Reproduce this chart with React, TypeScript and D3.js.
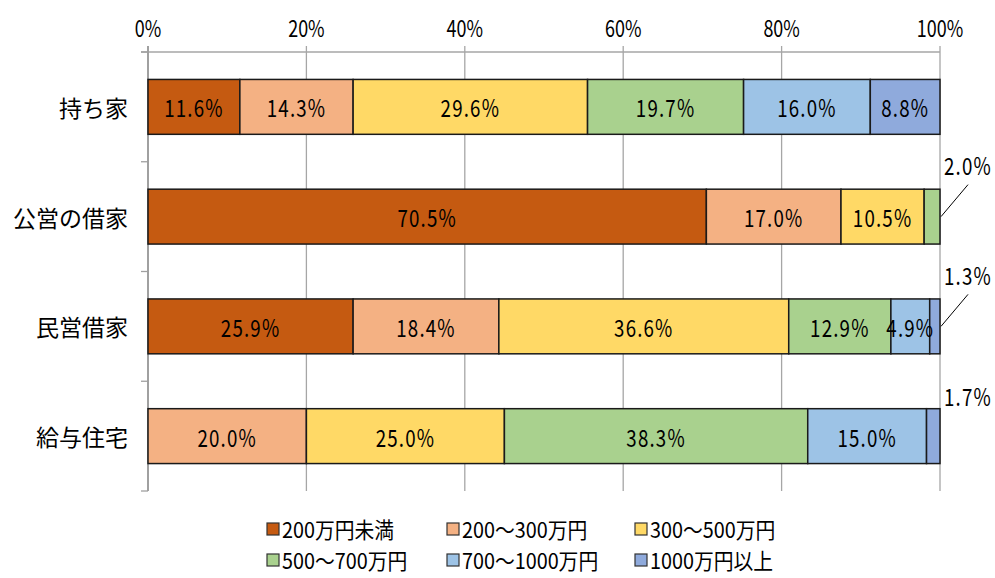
import React from 'react'
import * as d3 from 'd3'

const categories = ['持ち家', '公営の借家', '民営借家', '給与住宅']
const seriesNames = ['200万円未満', '200～300万円', '300～500万円', '500～700万円', '700～1000万円', '1000万円以上']
const seriesColors = ['#C55A11', '#F4B183', '#FFD966', '#A9D18E', '#9DC3E6', '#8FAADC']
// values per category, in series order (%)
const mochiie = [11.6, 14.3, 29.6, 19.7, 16.0, 8.8]
const koei = [70.5, 17.0, 10.5, 2.0, 0, 0]
const minei = [25.9, 18.4, 36.6, 12.9, 4.9, 1.3]
const kyuyo = [0, 20.0, 25.0, 38.3, 15.0, 1.7]
const values = [mochiie, koei, minei, kyuyo]
const xTicks = [0, 20, 40, 60, 80, 100]

// small segments labelled outside the bar: [category index, series index, leader line?]
const outside: [number, number, boolean][] = [
  [1, 3, true],
  [2, 5, true],
  [3, 5, false],
]

const font = "'Noto Sans CJK JP', 'Noto Sans CJK SC', sans-serif"

const T = ({ x, y, size, sx = 0.8, anchor = 'middle', ls = 0, children }: any) => (
  <text
    transform={`translate(${x},${y}) scale(${sx},1)`}
    textAnchor={anchor}
    dominantBaseline="central"
    fontSize={size}
    fontFamily={font}
    letterSpacing={ls}
    fill="#000"
  >
    {children}
  </text>
)

const App = () => {
  const width = 995
  const height = 578
  const x = d3.scaleLinear().domain([0, 100]).range([148, 940])
  const y = d3.scaleBand().domain(categories).range([52, 491]).paddingInner(0.5).paddingOuter(0.25)
  const step = y.step()
  const top = 52
  const bottom = 491
  const fmt = (v: number) => v.toFixed(1) + '%'
  const isOutside = (ci: number, si: number) => outside.some((o) => o[0] === ci && o[1] === si)

  const legendCols = [267, 447, 635]
  const legendRows = [529, 560]

  return (
    <svg width={width} height={height} style={{ position: 'absolute', left: 0, top: 0 }}>
      <rect width={width} height={height} fill="#fff" />
      {/* gridlines */}
      {xTicks.slice(1).map((t) => (
        <line key={t} x1={x(t)} x2={x(t)} y1={top - 6} y2={bottom} stroke="#a6a6a6" strokeWidth={1.3} />
      ))}
      {/* top axis */}
      <line x1={141} x2={x(100)} y1={top} y2={top} stroke="#a6a6a6" strokeWidth={1.5} />
      {xTicks.map((t) => (
        <T key={t} x={x(t)} y={27} size={23} sx={0.78}>
          {t}%
        </T>
      ))}
      {/* left axis */}
      <line x1={x(0)} x2={x(0)} y1={top - 6} y2={bottom} stroke="#a0a0a0" strokeWidth={2} />
      {d3.range(categories.length + 1).map((i) => (
        <line key={i} x1={141} x2={x(0)} y1={top + i * step} y2={top + i * step} stroke="#a0a0a0" strokeWidth={1.3} />
      ))}
      {categories.map((c) => (
        <T key={c} x={128} y={(y(c) ?? 0) + y.bandwidth() / 2} size={23} sx={1} anchor="end">
          {c}
        </T>
      ))}
      {/* bars */}
      {categories.map((c, ci) => {
        const cum = d3.cumsum(values[ci])
        const y0 = y(c) ?? 0
        const cy = y0 + y.bandwidth() / 2
        return (
          <g key={c}>
            {values[ci].map((v, si) => {
              if (v <= 0) return null
              const a = cum[si] - v
              return (
                <rect
                  key={si}
                  x={x(a)}
                  y={y0}
                  width={x(cum[si]) - x(a)}
                  height={y.bandwidth()}
                  fill={seriesColors[si]}
                  stroke="#1a1a1a"
                  strokeWidth={1.5}
                />
              )
            })}
            {values[ci].map((v, si) => {
              if (v <= 0 || isOutside(ci, si)) return null
              const a = cum[si] - v
              return (
                <T key={'l' + si} x={(x(a) + x(cum[si])) / 2} y={cy} size={24} sx={0.78} ls={1.5}>
                  {fmt(v)}
                </T>
              )
            })}
          </g>
        )
      })}
      {/* outside labels */}
      {outside.map(([ci, si, leader]) => {
        const c = categories[ci]
        const cy = (y(c) ?? 0) + y.bandwidth() / 2
        const lx = x(100) + 28
        return (
          <g key={c}>
            {leader && <line x1={x(100) + 1} y1={cy} x2={x(100) + 28} y2={cy - 32} stroke="#000" strokeWidth={1} />}
            <T x={lx} y={cy - (leader ? 52 : 41)} size={24} sx={0.78} ls={1.5}>
              {fmt(values[ci][si])}
            </T>
          </g>
        )
      })}
      {/* legend */}
      {seriesNames.map((s, i) => {
        const lx = legendCols[i % 3]
        const ly = legendRows[Math.floor(i / 3)]
        return (
          <g key={s}>
            <rect x={lx} y={ly - 6} width={12} height={12} fill={seriesColors[i]} stroke="#333" strokeWidth={1.2} />
            <T x={lx + 15} y={ly} size={22} sx={0.9} anchor="start">
              {s}
            </T>
          </g>
        )
      })}
    </svg>
  )
}

export default App
